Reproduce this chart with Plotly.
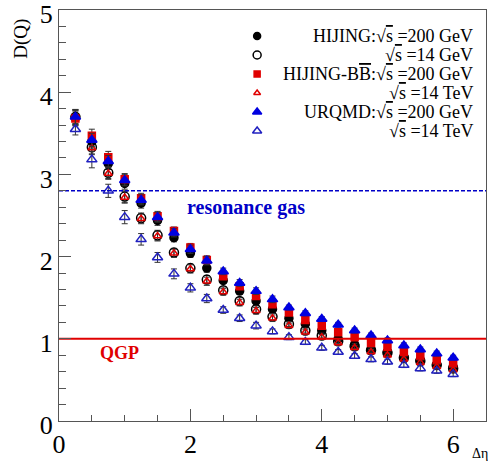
import plotly.graph_objects as go

# Pseudorapidity window widths
eta = [0.25, 0.5, 0.75, 1.0, 1.25, 1.5, 1.75, 2.0, 2.25, 2.5, 2.75, 3.0,
       3.25, 3.5, 3.75, 4.0, 4.25, 4.5, 4.75, 5.0, 5.25, 5.5, 5.75, 6.0]

# D-measure values per model / energy
hijing_200 = [3.69, 3.40, 3.13, 2.89, 2.65, 2.44, 2.23, 2.04, 1.86, 1.71, 1.58, 1.46,
              1.36, 1.25, 1.18, 1.10, 1.00, 0.93, 0.87, 0.84, 0.78, 0.74, 0.69, 0.66]
hijing_14 = [3.70, 3.33, 3.02, 2.73, 2.47, 2.26, 2.05, 1.86, 1.72, 1.59, 1.46, 1.36,
             1.27, 1.18, 1.10, 1.04, 0.97, 0.91, 0.86, 0.83, 0.77, 0.73, 0.68, 0.64]
hijbb_200 = [3.68, 3.47, 3.21, 2.94, 2.71, 2.49, 2.31, 2.11, 1.96, 1.76, 1.64, 1.52,
             1.42, 1.32, 1.23, 1.16, 1.08, 1.02, 0.95, 0.90, 0.84, 0.79, 0.74, 0.70]
hijbb_14 = [3.69, 3.32, 3.01, 2.72, 2.46, 2.25, 2.04, 1.85, 1.70, 1.57, 1.44, 1.34,
            1.25, 1.16, 1.08, 1.02, 0.95, 0.89, 0.84, 0.80, 0.75, 0.71, 0.66, 0.62]
urqmd_200 = [3.70, 3.42, 3.16, 2.93, 2.69, 2.48, 2.29, 2.09, 1.95, 1.82, 1.68, 1.58,
             1.48, 1.38, 1.31, 1.24, 1.17, 1.10, 1.04, 0.98, 0.92, 0.87, 0.82, 0.77]
urqmd_14 = [3.55, 3.18, 2.80, 2.48, 2.21, 1.99, 1.79, 1.62, 1.49, 1.35, 1.25, 1.16,
            1.09, 1.02, 0.96, 0.89, 0.84, 0.79, 0.75, 0.72, 0.68, 0.64, 0.61, 0.57]

# Statistical uncertainties
err_main = [0.09, 0.08, 0.07, 0.07, 0.06, 0.06, 0.05, 0.05, 0.05, 0.04, 0.04, 0.04,
            0.04, 0.03, 0.03, 0.03, 0.03, 0.03, 0.03, 0.03, 0.03, 0.03, 0.03, 0.03]
err_urqmd14 = [0.07, 0.10, 0.08, 0.08, 0.07, 0.06, 0.06, 0.05, 0.05, 0.04, 0.04, 0.04,
               0.03, 0.03, 0.03, 0.03, 0.03, 0.03, 0.03, 0.03, 0.03, 0.03, 0.03, 0.03]

resonance_gas = 2.8
qgp = 1.0

SQS = "√<span style='text-decoration:overline'>s</span>"
series = [
    (hijing_200, err_main, "circle", "black", 8, f"HIJING:{SQS} =200 GeV"),
    (hijing_14, err_main, "circle-open", "black", 9, f"{SQS} =14 GeV"),
    (hijbb_200, err_main, "square", "#e00000", 7,
     f"HIJING-B<span style='text-decoration:overline'>B</span>:{SQS} =200 GeV"),
    (hijbb_14, err_main, "triangle-up-open", "#e00000", 7, f"{SQS} =14 TeV"),
    (urqmd_200, err_main, "triangle-up", "#0000e0", 9, f"URQMD:{SQS} =200 GeV"),
    (urqmd_14, err_urqmd14, "triangle-up-open", "#2020c0", 9, f"{SQS} =14 TeV"),
]

SERIF = "Liberation Serif"
fig = go.Figure()

for vals, err, sym, col, size, name in series:
    fig.add_trace(go.Scatter(
        x=eta, y=vals, mode="markers",
        marker=dict(symbol=sym, color=col, size=size, line=dict(color=col, width=1.5)),
        error_y=dict(type="data", array=err, color="#333333", thickness=1, width=3),
        showlegend=False,
    ))

# Reference lines
fig.add_trace(go.Scatter(x=[0, 6.5], y=[resonance_gas, resonance_gas], mode="lines",
                         line=dict(color="#0000c8", width=1.5, dash="4px,2px"),
                         showlegend=False))
fig.add_trace(go.Scatter(x=[0, 6.5], y=[qgp, qgp], mode="lines",
                         line=dict(color="#e00000", width=2), showlegend=False))

# Hand-built key on an overlaid unit frame
row_px = [36, 55, 74, 93, 112, 131]
top_px, bot_px = 10, 421
for (vals, err, sym, col, size, name), r in zip(series, row_px):
    yf = (bot_px - r) / (bot_px - top_px)
    fig.add_trace(go.Scatter(
        x=[0.464], y=[yf], mode="markers", xaxis="x2", yaxis="y2",
        marker=dict(symbol=sym, color=col, size=size - 1, line=dict(color=col, width=1.5)),
        showlegend=False, cliponaxis=False,
    ))
    fig.add_annotation(x=0.974, y=yf, xref="paper", yref="paper", text=name,
                       showarrow=False, xanchor="right", yanchor="middle",
                       font=dict(family=SERIF, size=18, color="black"))

fig.add_annotation(x=2.85, y=2.6, text="<b>resonance gas</b>", showarrow=False,
                   font=dict(family=SERIF, size=20, color="#0000c8"))
fig.add_annotation(x=0.92, y=0.83, text="<b>QGP</b>", showarrow=False,
                   font=dict(family=SERIF, size=18, color="#e00000"))

# Axis titles
fig.add_annotation(x=-0.089, y=0.93, xref="paper", yref="paper", text="D(Q)",
                   xanchor="center", yanchor="middle", showarrow=False, textangle=-90,
                   font=dict(family=SERIF, size=19, color="black"))
fig.add_annotation(x=0.985, y=-0.08, xref="paper", yref="paper", text="Δη",
                   xanchor="center", yanchor="middle", showarrow=False,
                   font=dict(family=SERIF, size=14, color="black"))

axis_common = dict(
    showline=True, linecolor="#555555", linewidth=1, mirror=True,
    ticks="inside", ticklen=12, tickcolor="#555555", tickwidth=1,
    showgrid=False, zeroline=False, ticklabeloverflow="allow", automargin=False,
    tickfont=dict(family=SERIF, size=26, color="black"),
)
fig.update_layout(
    width=488, height=462,
    margin=dict(l=59, r=2, t=10, b=41),
    plot_bgcolor="white", paper_bgcolor="white",
    xaxis=dict(range=[0, 6.5], tickvals=[0, 2, 4, 6],
               minor=dict(dtick=0.5, ticks="inside", ticklen=6, tickcolor="#555555"),
               **axis_common),
    yaxis=dict(range=[0, 5], tickvals=[0, 1, 2, 3, 4, 5], ticklabelshift=4,
               minor=dict(dtick=0.2, ticks="inside", ticklen=7, tickcolor="#555555"),
               **axis_common),
    xaxis2=dict(overlaying="x", range=[0, 1], visible=False),
    yaxis2=dict(overlaying="y", range=[0, 1], visible=False),
)

fig.write_html("out.html")
